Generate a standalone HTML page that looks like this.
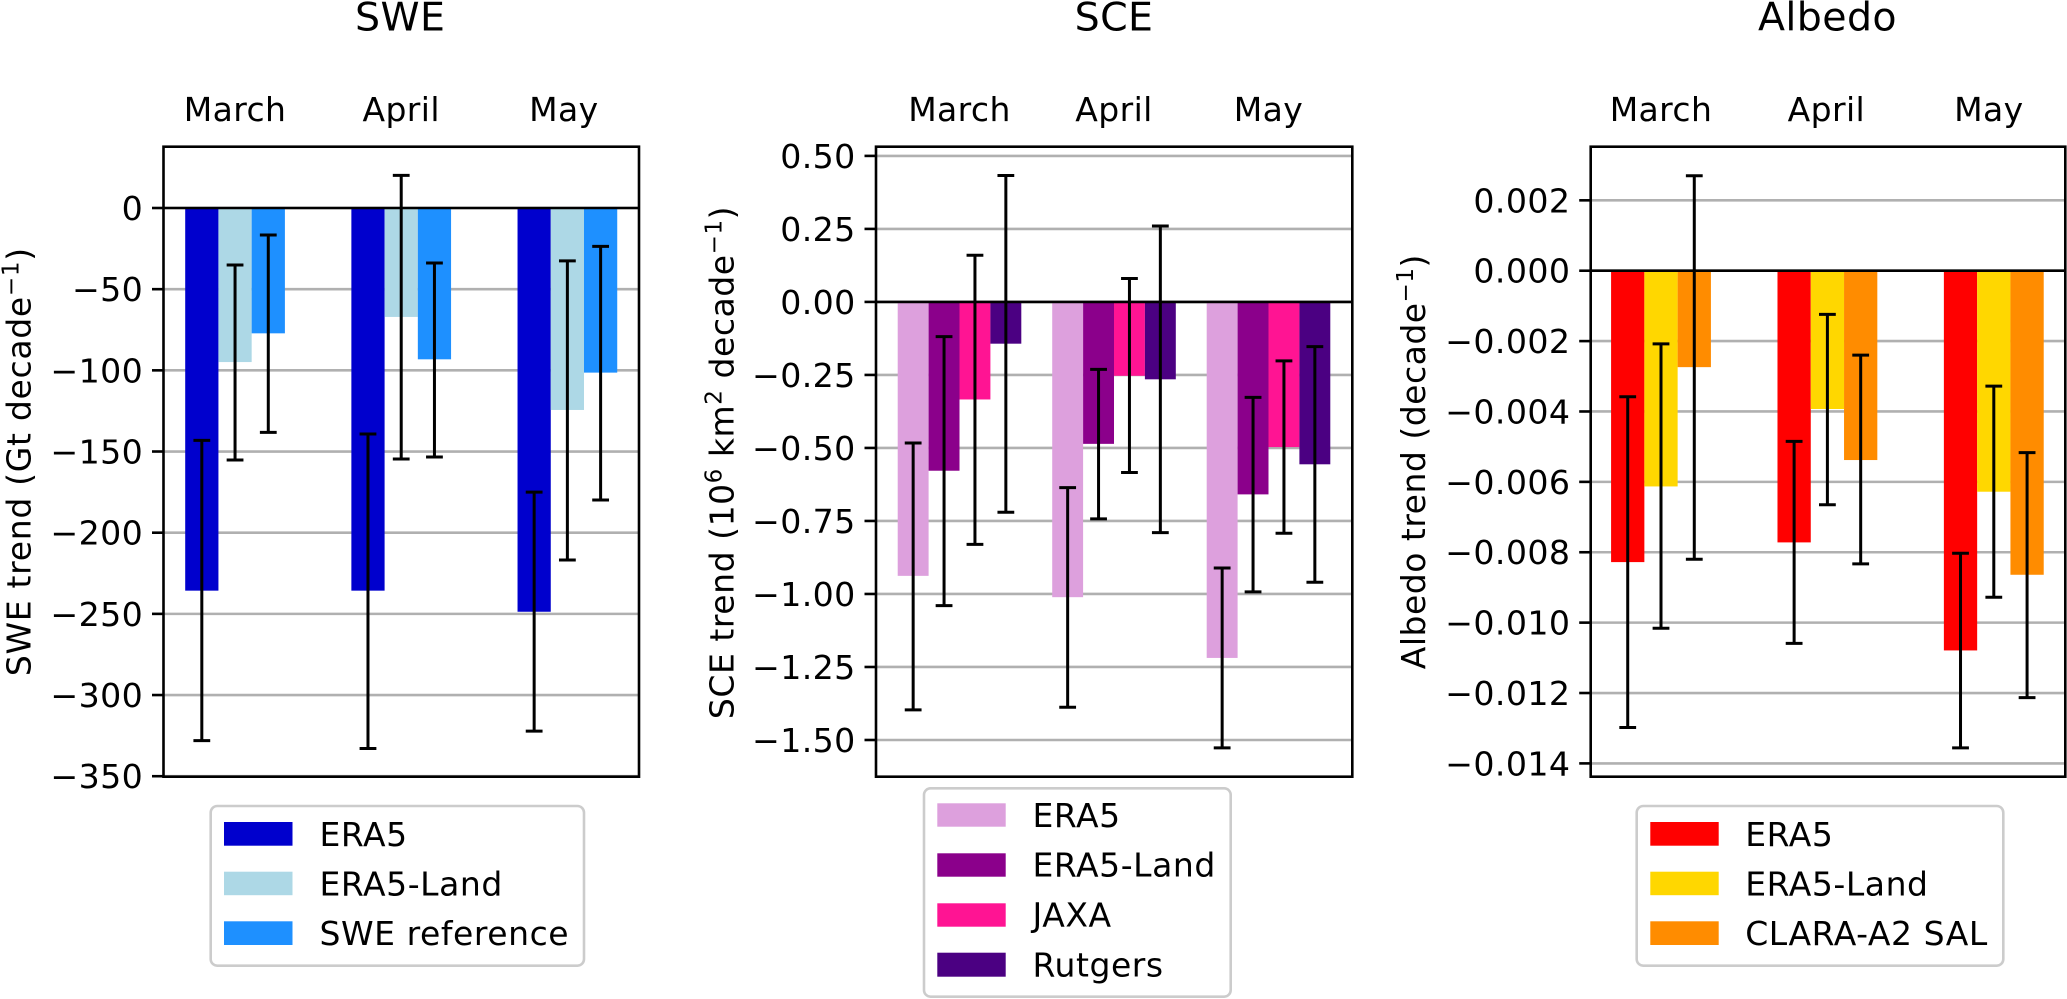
<!DOCTYPE html>
<html lang="en">
<head>
<meta charset="utf-8">
<title>SWE, SCE and Albedo trends</title>
<style>
  html, body { margin: 0; padding: 0; background: #fff; }
  svg { display: block; font-family: "DejaVu Sans", "Liberation Sans", sans-serif; fill: #000; }
</style>
</head>
<body>
<svg id="chart" xmlns="http://www.w3.org/2000/svg" width="2067" height="999" viewBox="0 0 2067 999">
  <rect x="0" y="0" width="2067" height="999" fill="#ffffff"/>
  <g id="panels"></g>

  <text x="400.2" y="30.7" font-size="39.5" letter-spacing="0.4" text-anchor="middle">SWE</text>
  <text x="1114" y="30.7" font-size="39.5" letter-spacing="0.4" text-anchor="middle">SCE</text>
  <text x="1827.5" y="30.7" font-size="39.5" letter-spacing="0.4" text-anchor="middle">Albedo</text>

  <text transform="translate(30.7,461.7) rotate(-90)" font-size="33" letter-spacing="0.7" text-anchor="middle">SWE trend (Gt decade<tspan dy="-12" font-size="23">−1</tspan><tspan dy="12">)</tspan></text>
  <text transform="translate(733.3,462.5) rotate(-90)" font-size="33" letter-spacing="0.55" text-anchor="middle">SCE trend (10<tspan dy="-12" font-size="23">6</tspan><tspan dy="12"> km</tspan><tspan dy="-12" font-size="23">2</tspan><tspan dy="12"> decade</tspan><tspan dy="-12" font-size="23">−1</tspan><tspan dy="12">)</tspan></text>
  <text transform="translate(1425,461.7) rotate(-90)" font-size="33" letter-spacing="0.5" text-anchor="middle">Albedo trend (decade<tspan dy="-12" font-size="23">−1</tspan><tspan dy="12">)</tspan></text>

  <g>
    <rect x="210.7" y="806" width="373.3" height="159.7" rx="6.6" fill="#fff" stroke="#cccccc" stroke-width="2.6"/>
    <rect x="224" y="822" width="68.5" height="23.7" fill="#0000CD"/>
    <text x="319.5" y="846" font-size="33" letter-spacing="0.55">ERA5</text>
    <rect x="224" y="871.7" width="68.5" height="23.5" fill="#ADD8E6"/>
    <text x="319.5" y="895.3" font-size="33" letter-spacing="0.55">ERA5-Land</text>
    <rect x="224" y="921.3" width="68.5" height="23.7" fill="#1E90FF"/>
    <text x="319.5" y="945" font-size="33" letter-spacing="0.55">SWE reference</text>
  </g>

  <g>
    <rect x="924" y="788.3" width="306.7" height="208.4" rx="6.6" fill="#fff" stroke="#cccccc" stroke-width="2.6"/>
    <rect x="937.3" y="803.3" width="68.4" height="23.4" fill="#DDA0DD"/>
    <text x="1032.5" y="827" font-size="33" letter-spacing="0.55">ERA5</text>
    <rect x="937.3" y="853.3" width="68.4" height="23.4" fill="#8B008B"/>
    <text x="1032.5" y="876.7" font-size="33" letter-spacing="0.55">ERA5-Land</text>
    <rect x="937.3" y="903.3" width="68.4" height="23.4" fill="#FF1493"/>
    <text x="1032.5" y="926.7" font-size="33" letter-spacing="0.55">JAXA</text>
    <rect x="937.3" y="952.7" width="68.4" height="24" fill="#4B0082"/>
    <text x="1032.5" y="976.7" font-size="33" letter-spacing="0.55">Rutgers</text>
  </g>

  <g>
    <rect x="1636.7" y="806" width="366.6" height="159.7" rx="6.6" fill="#fff" stroke="#cccccc" stroke-width="2.6"/>
    <rect x="1650.3" y="822" width="68.4" height="23.7" fill="#FF0000"/>
    <text x="1745.2" y="846" font-size="33" letter-spacing="0.55">ERA5</text>
    <rect x="1650.3" y="871.7" width="68.4" height="23.5" fill="#FFD700"/>
    <text x="1745.2" y="895.3" font-size="33" letter-spacing="0.55">ERA5-Land</text>
    <rect x="1650.3" y="921.3" width="68.4" height="23.7" fill="#FF8C00"/>
    <text x="1745.2" y="945" font-size="33" letter-spacing="0.55">CLARA-A2 SAL</text>
  </g>
</svg>

<script>
// ---- Shared categories ----
const months = ['March', 'April', 'May'];

// ---- SWE panel data (Gt per decade) ----
const sweTicks = [0, -50, -100, -150, -200, -250, -300, -350];
const sweTickLabels = ['0', '−50', '−100', '−150', '−200', '−250', '−300', '−350'];
const sweEra5 = [-235.7, -235.7, -248.7];
const sweEra5Land = [-94.9, -67.1, -124.4];
const sweReference = [-77.2, -93.2, -101.4];
const sweEra5ErrTop = [-143.1, -139.2, -175.0];
const sweEra5ErrBottom = [-328.1, -332.9, -322.2];
const sweEra5LandErrTop = [-35.1, 20.1, -32.6];
const sweEra5LandErrBottom = [-155.2, -154.6, -216.8];
const sweReferenceErrTop = [-16.6, -33.9, -23.6];
const sweReferenceErrBottom = [-138.2, -153.4, -179.9];

// ---- SCE panel data (10^6 km2 per decade) ----
const sceTicks = [0.5, 0.25, 0, -0.25, -0.5, -0.75, -1, -1.25, -1.5];
const sceTickLabels = ['0.50', '0.25', '0.00', '−0.25', '−0.50', '−0.75', '−1.00', '−1.25', '−1.50'];
const sceEra5 = [-0.938, -1.011, -1.219];
const sceEra5Land = [-0.578, -0.486, -0.659];
const sceJaxa = [-0.334, -0.253, -0.497];
const sceRutgers = [-0.143, -0.265, -0.556];
const sceEra5ErrTop = [-0.483, -0.636, -0.911];
const sceEra5ErrBottom = [-1.397, -1.388, -1.527];
const sceEra5LandErrTop = [-0.119, -0.231, -0.327];
const sceEra5LandErrBottom = [-1.04, -0.743, -0.993];
const sceJaxaErrTop = [0.16, 0.08, -0.202];
const sceJaxaErrBottom = [-0.83, -0.584, -0.792];
const sceRutgersErrTop = [0.433, 0.26, -0.153];
const sceRutgersErrBottom = [-0.72, -0.79, -0.96];

// ---- Albedo panel data (per decade) ----
const albedoTicks = [0.002, 0, -0.002, -0.004, -0.006, -0.008, -0.01, -0.012, -0.014];
const albedoTickLabels = ['0.002', '0.000', '−0.002', '−0.004', '−0.006', '−0.008', '−0.010', '−0.012', '−0.014'];
const albedoEra5 = [-0.00828, -0.00772, -0.01079];
const albedoEra5Land = [-0.00613, -0.00393, -0.00628];
const albedoClara = [-0.00274, -0.00538, -0.00864];
const albedoEra5ErrTop = [-0.00358, -0.00485, -0.00803];
const albedoEra5ErrBottom = [-0.01298, -0.01059, -0.01356];
const albedoEra5LandErrTop = [-0.00208, -0.00124, -0.00328];
const albedoEra5LandErrBottom = [-0.01016, -0.00665, -0.00928];
const albedoClaraErrTop = [0.0027, -0.0024, -0.00517];
const albedoClaraErrBottom = [-0.0082, -0.00833, -0.01213];

const SVG_NS = 'http://www.w3.org/2000/svg';
const root = document.getElementById('panels');
const BAR_WIDTH = 0.2;

function make(parent, tag, attrs) {
  const node = document.createElementNS(SVG_NS, tag);
  for (const key in attrs) node.setAttribute(key, attrs[key]);
  parent.appendChild(node);
  return node;
}

function drawPanel(panel) {
  const box = panel.box;
  const xScale = function (v) {
    return box.left + (v - panel.xDomain[0]) / (panel.xDomain[1] - panel.xDomain[0]) * (box.right - box.left);
  };
  const yScale = function (v) {
    return box.bottom - (v - panel.yDomain[0]) / (panel.yDomain[1] - panel.yDomain[0]) * (box.bottom - box.top);
  };

  const g = make(root, 'g', {});
  
  

  // Horizontal gridlines
  panel.ticks.forEach(function (t) {
    const line = make(g, 'line', { x1: box.left, x2: box.right, y1: yScale(t), y2: yScale(t), stroke: '#b0b0b0', 'stroke-width': 2.6 });
    
    
  });

  // Bars
  const count = panel.series.length;
  panel.series.forEach(function (s, si) {
    const offset = (si - (count - 1) / 2) * BAR_WIDTH;
    s.values.forEach(function (value, mi) {
      const x0 = xScale(mi + offset - BAR_WIDTH / 2);
      const x1 = xScale(mi + offset + BAR_WIDTH / 2);
      const y0 = yScale(0);
      const y1 = yScale(value);
      const bar = make(g, 'rect', { x: x0, y: Math.min(y0, y1), width: x1 - x0, height: Math.abs(y1 - y0), fill: s.color });
      
      
    });
  });

  // Zero line
  const zero = make(g, 'line', { x1: box.left, x2: box.right, y1: yScale(0), y2: yScale(0), stroke: '#000', 'stroke-width': 2.6 });
  
  

  // Error bars
  panel.series.forEach(function (s, si) {
    const offset = (si - (count - 1) / 2) * BAR_WIDTH;
    s.errTop.forEach(function (top, mi) {
      const cx = xScale(mi + offset);
      const yTop = yScale(top);
      const yBottom = yScale(s.errBottom[mi]);
      const eb = make(g, 'g', { stroke: '#000', 'stroke-width': 3 });
      
      
      make(eb, 'line', { x1: cx, x2: cx, y1: yTop, y2: yBottom });
      make(eb, 'line', { x1: cx - 8.4, x2: cx + 8.4, y1: yTop, y2: yTop });
      make(eb, 'line', { x1: cx - 8.4, x2: cx + 8.4, y1: yBottom, y2: yBottom });
    });
  });

  // Spines
  const frame = make(g, 'rect', { x: box.left, y: box.top, width: box.right - box.left, height: box.bottom - box.top, fill: 'none', stroke: '#000', 'stroke-width': 2.6 });
  
  

  // Y ticks and labels
  panel.ticks.forEach(function (t, i) {
    const y = yScale(t);
    const tick = make(g, 'line', { x1: box.left - 11.5, x2: box.left, y1: y, y2: y, stroke: '#000', 'stroke-width': 2.6 });
    
    
    const label = make(g, 'text', { x: box.left - 20.3, y: y + 12, 'font-size': 33.2, 'letter-spacing': 0.4, 'text-anchor': 'end' });
    label.textContent = panel.tickLabels[i];
    
    
  });

  // Month labels along the top
  months.forEach(function (m, i) {
    const label = make(g, 'text', { x: xScale(i) + panel.monthNudge[i], y: 121, 'font-size': 33, 'letter-spacing': 0.4, 'text-anchor': 'middle' });
    label.textContent = m;
    
    
  });
}

drawPanel({
  key: 'swe',
  box: { left: 163.5, right: 639, top: 146.7, bottom: 776.7 },
  xDomain: [-0.4306, 2.431],
  yDomain: [-350.3, 37.76],
  monthNudge: [0, 0, -3.5],
  ticks: sweTicks,
  tickLabels: sweTickLabels,
  series: [
    { key: 'era5', color: '#0000CD', values: sweEra5, errTop: sweEra5ErrTop, errBottom: sweEra5ErrBottom },
    { key: 'era5-land', color: '#ADD8E6', values: sweEra5Land, errTop: sweEra5LandErrTop, errBottom: sweEra5LandErrBottom },
    { key: 'reference', color: '#1E90FF', values: sweReference, errTop: sweReferenceErrTop, errBottom: sweReferenceErrBottom }
  ]
});

drawPanel({
  key: 'sce',
  box: { left: 876, right: 1352.3, top: 146.7, bottom: 776.7 },
  xDomain: [-0.5405, 2.5424],
  yDomain: [-1.6257, 0.5315],
  monthNudge: [0, 0, 0],
  ticks: sceTicks,
  tickLabels: sceTickLabels,
  series: [
    { key: 'era5', color: '#DDA0DD', values: sceEra5, errTop: sceEra5ErrTop, errBottom: sceEra5ErrBottom },
    { key: 'era5-land', color: '#8B008B', values: sceEra5Land, errTop: sceEra5LandErrTop, errBottom: sceEra5LandErrBottom },
    { key: 'jaxa', color: '#FF1493', values: sceJaxa, errTop: sceJaxaErrTop, errBottom: sceJaxaErrBottom },
    { key: 'rutgers', color: '#4B0082', values: sceRutgers, errTop: sceRutgersErrTop, errBottom: sceRutgersErrBottom }
  ]
});

drawPanel({
  key: 'albedo',
  box: { left: 1590.7, right: 2065.3, top: 146.7, bottom: 776.7 },
  xDomain: [-0.4225, 2.4297],
  yDomain: [-0.014378, 0.003524],
  monthNudge: [0, -1, -5],
  ticks: albedoTicks,
  tickLabels: albedoTickLabels,
  series: [
    { key: 'era5', color: '#FF0000', values: albedoEra5, errTop: albedoEra5ErrTop, errBottom: albedoEra5ErrBottom },
    { key: 'era5-land', color: '#FFD700', values: albedoEra5Land, errTop: albedoEra5LandErrTop, errBottom: albedoEra5LandErrBottom },
    { key: 'clara', color: '#FF8C00', values: albedoClara, errTop: albedoClaraErrTop, errBottom: albedoClaraErrBottom }
  ]
});
</script>
</body>
</html>
